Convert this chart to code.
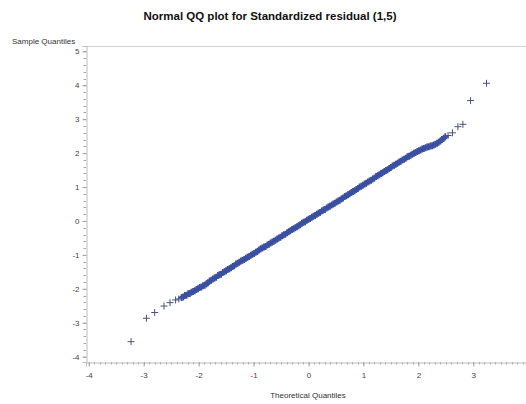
<!DOCTYPE html>
<html>
<head>
<meta charset="utf-8">
<script src="https://cdn.jsdelivr.net/npm/d3@7"></script>
<style>
  body { margin: 0; background: #fff; }
  text { font-family: 'Liberation Sans', Arial, sans-serif; }
</style>
</head>
<body>
<div id="chart"></div>
<script>
// theoretical quantiles (x) and standardized residuals (y)
const theoretical = [
  -3.23, -2.95, -2.80, -2.63, -2.52, -2.42, -2.36,
  -2.31, -2.28, -2.25, -2.22, -2.19, -2.16, -2.13, -2.10, -2.07, -2.04,
  -2.01, -1.98, -1.95, -1.92, -1.89, -1.86, -1.83, -1.80, -1.77, -1.74,
  -1.71, -1.68, -1.65, -1.62, -1.59, -1.56, -1.53, -1.50, -1.47, -1.44,
  -1.41, -1.38, -1.35, -1.32, -1.29, -1.26, -1.23, -1.20, -1.17, -1.14,
  -1.11, -1.08, -1.05, -1.02, -0.99, -0.96, -0.93, -0.90, -0.87, -0.84,
  -0.81, -0.78, -0.75, -0.72, -0.69, -0.66, -0.63, -0.60, -0.57, -0.54,
  -0.51, -0.48, -0.45, -0.42, -0.39, -0.36, -0.33, -0.30, -0.27, -0.24,
  -0.21, -0.18, -0.15, -0.12, -0.09, -0.06, -0.03, 0.00, 0.03, 0.06,
  0.09, 0.12, 0.15, 0.18, 0.21, 0.24, 0.27, 0.30, 0.33, 0.36,
  0.39, 0.42, 0.45, 0.48, 0.51, 0.54, 0.57, 0.60, 0.63, 0.66,
  0.69, 0.72, 0.75, 0.78, 0.81, 0.84, 0.87, 0.90, 0.93, 0.96,
  0.99, 1.02, 1.05, 1.08, 1.11, 1.14, 1.17, 1.20, 1.23, 1.26,
  1.29, 1.32, 1.35, 1.38, 1.41, 1.44, 1.47, 1.50, 1.53, 1.56,
  1.59, 1.62, 1.65, 1.68, 1.71, 1.74, 1.77, 1.80, 1.83, 1.86,
  1.89, 1.92, 1.95, 1.98, 2.01, 2.04, 2.07, 2.10, 2.13, 2.16,
  2.19, 2.22, 2.25, 2.28, 2.31, 2.34, 2.37, 2.40, 2.43, 2.46, 2.49,
  2.54, 2.62, 2.72, 2.81, 2.95, 3.24
];

const residuals = [
  -3.56, -2.87, -2.70, -2.51, -2.41, -2.33, -2.30,
  -2.26, -2.24, -2.20, -2.19, -2.15, -2.14, -2.10, -2.08, -2.06, -2.02,
  -2.00, -1.96, -1.95, -1.91, -1.90, -1.86, -1.82, -1.77, -1.75, -1.71,
  -1.68, -1.66, -1.61, -1.59, -1.57, -1.52, -1.50, -1.47, -1.43, -1.41,
  -1.38, -1.34, -1.32, -1.27, -1.25, -1.22, -1.18, -1.16, -1.14, -1.10,
  -1.07, -1.05, -1.01, -0.98, -0.96, -0.92, -0.90, -0.86, -0.82, -0.80,
  -0.77, -0.75, -0.71, -0.69, -0.65, -0.62, -0.60, -0.57, -0.53, -0.50,
  -0.48, -0.44, -0.41, -0.39, -0.35, -0.32, -0.29, -0.25, -0.23, -0.20,
  -0.17, -0.14, -0.11, -0.07, -0.04, -0.02, 0.02, 0.05, 0.07, 0.11,
  0.14, 0.16, 0.20, 0.23, 0.25, 0.29, 0.32, 0.34, 0.38, 0.41,
  0.43, 0.47, 0.50, 0.52, 0.56, 0.59, 0.61, 0.65, 0.68, 0.72,
  0.74, 0.77, 0.80, 0.84, 0.87, 0.89, 0.93, 0.96, 1.00, 1.02,
  1.05, 1.09, 1.11, 1.15, 1.18, 1.20, 1.24, 1.27, 1.31, 1.33,
  1.36, 1.40, 1.42, 1.46, 1.49, 1.51, 1.55, 1.58, 1.62, 1.64,
  1.67, 1.70, 1.74, 1.76, 1.80, 1.82, 1.85, 1.89, 1.91, 1.94,
  1.97, 2.00, 2.02, 2.05, 2.07, 2.09, 2.12, 2.14, 2.16, 2.18,
  2.19, 2.21, 2.22, 2.24, 2.26, 2.29, 2.32, 2.36, 2.40, 2.44, 2.48,
  2.52, 2.60, 2.78, 2.85, 3.55, 4.06
];

const xTicks = [-4, -3, -2, -1, 0, 1, 2, 3];
const yTicks = [-4, -3, -2, -1, 0, 1, 2, 3, 4, 5];

const W = 526;
const H = 404;
const plot = { left: 86, top: 46, right: 531, bottom: 362 };

const svg = d3
  .select('#chart')
  .append('svg')
  .attr('width', W)
  .attr('height', H);

const x = d3
  .scaleLinear()
  .domain([-4.05, 4.05])
  .range([plot.left, plot.right]);
const y = d3
  .scaleLinear()
  .domain([-4.16, 5.16])
  .range([plot.bottom, plot.top]);

// frame: top border line
svg
  .append('line')
  .attr('x1', plot.left)
  .attr('x2', W)
  .attr('y1', plot.top + 0.5)
  .attr('y2', plot.top + 0.5)
  .attr('stroke', '#cfcfcf');

// minor ticks first, majors drawn by the axes on top
const xMinor = d3.range(-40, 41).map(d => d / 10);
const yMinor = d3.range(-20, 26).map(d => d / 5);

svg
  .append('g')
  .selectAll('line')
  .data(xMinor)
  .enter()
  .append('line')
  .attr('x1', d => Math.round(x(d)) + 0.5)
  .attr('x2', d => Math.round(x(d)) + 0.5)
  .attr('y1', plot.bottom)
  .attr('y2', plot.bottom + 2.5)
  .attr('stroke', '#a8a8a8');

svg
  .append('g')
  .selectAll('line')
  .data(yMinor)
  .enter()
  .append('line')
  .attr('x1', plot.left - 2.5)
  .attr('x2', plot.left)
  .attr('y1', d => Math.round(y(d)) + 0.5)
  .attr('y2', d => Math.round(y(d)) + 0.5)
  .attr('stroke', '#a8a8a8');

const xAxis = svg
  .append('g')
  .attr('transform', `translate(0,${plot.bottom + 0.5})`)
  .call(
    d3
      .axisBottom(x)
      .tickValues(xTicks)
      .tickSize(4)
      .tickPadding(6)
      .tickFormat(d => String(d))
  );

const yAxis = svg
  .append('g')
  .attr('transform', `translate(${plot.left + 0.5},0)`)
  .call(
    d3
      .axisLeft(y)
      .tickValues(yTicks)
      .tickSize(4)
      .tickPadding(3)
      .tickFormat(d => String(d))
  );

[xAxis, yAxis].forEach(a => {
  a.select('.domain').attr('stroke', '#bdbdbd');
  a.selectAll('.tick line').attr('stroke', '#a0a0a0');
  a
    .selectAll('.tick text')
    .attr('fill', '#444')
    .style('font-size', '8px')
    .style('font-family', "'Liberation Sans', Arial, sans-serif");
});

// the points, drawn as "+" markers; the crowded middle ones merge into a band
const pts = theoretical.map((t, i) => ({ t, r: residuals[i] }));
const s = 3.5;
const dense = d => d.t >= -2.31 && d.t <= 2.49;

svg
  .append('g')
  .selectAll('path')
  .data(pts)
  .enter()
  .append('path')
  .attr('stroke', d => (dense(d) ? '#3a4f9f' : '#4a5378'))
  .attr('stroke-width', d => (dense(d) ? 1.8 : 1))
  .attr('d', d => {
    const cx = x(d.t);
    const cy = y(d.r);
    return `M${cx - s},${cy}H${cx + s}M${cx},${cy - s}V${cy + s}`;
  });

// texts
svg
  .append('text')
  .attr('x', 270)
  .attr('y', 20)
  .attr('text-anchor', 'middle')
  .style('font-size', '11.5px')
  .style('font-weight', 'bold')
  .attr('fill', '#111')
  .text('Normal QQ plot for Standardized residual (1,5)');

svg
  .append('text')
  .attr('x', 12)
  .attr('y', 44)
  .style('font-size', '8px')
  .attr('fill', '#333')
  .text('Sample Quantiles');

svg
  .append('text')
  .attr('x', 308)
  .attr('y', 398)
  .attr('text-anchor', 'middle')
  .style('font-size', '8px')
  .attr('fill', '#333')
  .text('Theoretical Quantiles');
</script>
</body>
</html>
